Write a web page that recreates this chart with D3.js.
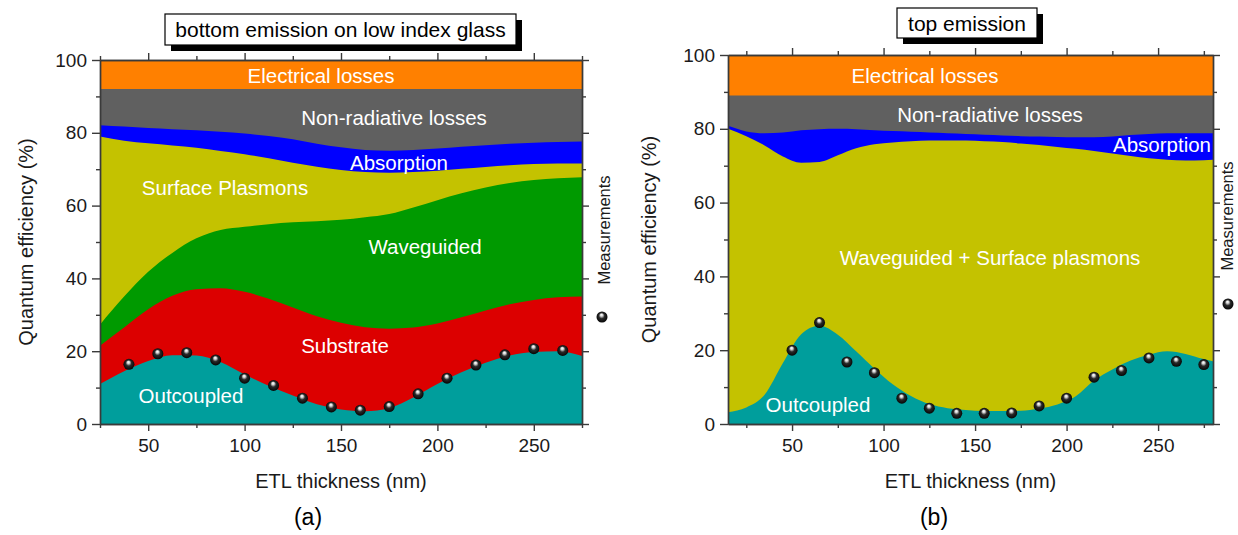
<!DOCTYPE html>
<html>
<head>
<meta charset="utf-8">
<script src="https://cdn.jsdelivr.net/npm/d3@7"></script>
<style>
  body { margin: 0; background: #fff; }
  svg { display: block; }
  text { font-family: "Liberation Sans", Arial, Helvetica, sans-serif; }
</style>
</head>
<body>
<svg id="fig" width="1238" height="535"></svg>
<script>
// ---------- (a) bottom emission on low index glass ----------
// ETL thickness grid (nm) and share of each channel (%)
const bottomThickness   = [25, 37.5, 50, 62.5, 75, 87.5, 100, 112.5, 125, 137.5, 150, 162.5, 175, 187.5, 200, 212.5, 225, 237.5, 250, 262.5, 275];
const bottomOutcoupled  = [11.0, 14.5, 17.3, 18.9, 18.8, 17.0, 13.6, 10.5, 7.8, 5.4, 4.0, 3.5, 4.4, 7.3, 11.0, 14.2, 16.8, 18.8, 19.8, 20.0, 18.7];
const bottomSubstrate   = [10.5, 12.0, 14.2, 16.3, 18.2, 20.3, 22.7, 23.9, 24.2, 24.2, 23.8, 23.1, 21.8, 19.2, 16.6, 15.1, 14.4, 14.1, 14.3, 14.8, 16.3];
const bottomWaveguided  = [5.8, 8.5, 10.3, 11.8, 14.0, 16.0, 17.9, 20.5, 23.4, 26.1, 28.3, 30.2, 31.5, 33.0, 33.9, 34.1, 33.8, 33.3, 32.9, 32.7, 32.8];
const bottomPlasmons    = [51.7, 42.8, 35.3, 29.5, 24.9, 21.7, 19.9, 18.1, 16.4, 15.0, 13.7, 12.4, 11.3, 9.7, 8.1, 6.7, 5.6, 4.9, 4.4, 4.1, 3.8];
const bottomAbsorption  = [3.1, 3.9, 4.2, 4.5, 4.8, 5.3, 5.7, 6.1, 6.4, 6.3, 6.2, 6.1, 6.1, 6.1, 6.1, 6.1, 6.0, 5.9, 5.9, 5.9, 6.0];
const bottomNonRad      = [9.9, 10.3, 10.7, 11.0, 11.3, 11.7, 12.2, 12.9, 13.8, 15.0, 16.0, 16.7, 16.9, 16.7, 16.3, 15.8, 15.4, 15.0, 14.7, 14.5, 14.4];
const bottomElectrical  = [8, 8, 8, 8, 8, 8, 8, 8, 8, 8, 8, 8, 8, 8, 8, 8, 8, 8, 8, 8, 8];
// measured external quantum efficiency
const bottomMeasThickness = [40, 55, 70, 85, 100, 115, 130, 145, 160, 175, 190, 205, 220, 235, 250, 265];
const bottomMeasured      = [16.4, 19.3, 19.6, 17.6, 12.6, 10.6, 7.1, 4.7, 3.8, 4.8, 8.3, 12.6, 16.2, 19.0, 20.7, 20.2];

// ---------- (b) top emission ----------
const topThickness   = [15, 25, 35, 45, 55, 65, 75, 85, 95, 105, 115, 125, 135, 145, 155, 165, 175, 185, 195, 205, 215, 225, 235, 245, 255, 265, 275, 280];
const topOutcoupled  = [3.2, 4.5, 7.9, 16.5, 24.3, 26.6, 24.2, 19.7, 15.0, 10.8, 7.6, 5.4, 4.3, 3.8, 3.5, 3.5, 3.6, 4.2, 5.3, 7.5, 11.8, 14.8, 17.2, 18.8, 19.7, 19.0, 17.6, 17.0];
const topWgSp        = [76.8, 73.5, 67.6, 56.0, 46.5, 44.4, 48.6, 55.0, 60.8, 65.5, 69.0, 71.4, 72.5, 73.0, 73.1, 72.9, 72.4, 71.4, 69.8, 67.1, 62.2, 58.5, 55.4, 53.2, 51.9, 52.4, 53.9, 54.6];
const topAbsorption  = [0.8, 1.3, 3.3, 6.5, 8.8, 8.9, 7.2, 5.2, 3.8, 3.1, 2.6, 2.2, 2.0, 1.8, 1.8, 1.8, 2.0, 2.3, 2.7, 3.1, 3.7, 4.6, 5.7, 6.6, 7.2, 7.4, 7.3, 7.2];
const topNonRad      = [8.2, 9.7, 10.2, 10.0, 9.4, 9.1, 9.0, 9.1, 9.4, 9.6, 9.8, 10.0, 10.2, 10.4, 10.6, 10.8, 11.0, 11.1, 11.2, 11.3, 11.3, 11.1, 10.7, 10.4, 10.2, 10.2, 10.2, 10.2];
const topElectrical  = [11, 11, 11, 11, 11, 11, 11, 11, 11, 11, 11, 11, 11, 11, 11, 11, 11, 11, 11, 11, 11, 11, 11, 11, 11, 11, 11, 11];
const topMeasThickness = [50, 65, 80, 95, 110, 125, 140, 155, 170, 185, 200, 215, 230, 245, 260, 275];
const topMeasured      = [20.0, 27.5, 16.8, 13.9, 7.0, 4.3, 2.9, 2.9, 3.0, 4.9, 7.0, 12.7, 14.5, 17.9, 17.0, 16.1];

// axis ticks
const yMajor = [0, 20, 40, 60, 80, 100];
const yMinor = [10, 30, 50, 70, 90];
const xMajor = [50, 100, 150, 200, 250];
const xMinor = [25, 75, 125, 175, 225, 275];

const colors = {
  outcoupled: "#009e9c",
  substrate:  "#dc0000",
  waveguided: "#009a00",
  plasmons:   "#c4c200",
  wgsp:       "#c4c200",
  absorption: "#0000ff",
  nonrad:     "#606060",
  electrical: "#ff8000"
};

const svg = d3.select("#fig");
const defs = svg.append("defs");

// shaded sphere for the measurement markers
const grad = defs.append("radialGradient").attr("id", "ball")
  .attr("cx", "50%").attr("cy", "50%").attr("r", "55%")
  .attr("fx", "45%").attr("fy", "28%");
grad.append("stop").attr("offset", "0%").attr("stop-color", "#ffffff");
grad.append("stop").attr("offset", "20%").attr("stop-color", "#d8d8d8");
grad.append("stop").attr("offset", "48%").attr("stop-color", "#2a2a2a");
grad.append("stop").attr("offset", "100%").attr("stop-color", "#000000");

function drawPanel(p) {
  const x = d3.scaleLinear().domain(p.xDomain).range(p.xRange);
  const y = d3.scaleLinear().domain([0, 100]).range(p.yRange);
  const g = svg.append("g");

  const clipId = "clip-" + p.id;
  defs.append("clipPath").attr("id", clipId).append("rect")
    .attr("x", p.xRange[0]).attr("y", p.yRange[1])
    .attr("width", p.xRange[1] - p.xRange[0])
    .attr("height", p.yRange[0] - p.yRange[1]);

  const rows = p.thickness.map((t, i) => {
    const r = { t };
    p.layers.forEach(l => { r[l.key] = l.values[i]; });
    return r;
  });
  const stacked = d3.stack().keys(p.layers.map(l => l.key))(rows);

  // each layer is filled from the axis up to its cumulative top, top layer first
  const area = d3.area()
    .x(d => x(d.data.t))
    .y0(y(0))
    .y1(d => y(d[1]))
    .curve(d3.curveMonotoneX);

  const areas = g.append("g").attr("clip-path", `url(#${clipId})`);
  stacked.slice().reverse().forEach(s => {
    areas.append("path")
      .attr("d", area(s))
      .attr("fill", colors[s.key]);
  });

  // in-plot labels
  p.labels.forEach(l => {
    g.append("text")
      .attr("x", l.x).attr("y", l.y).attr("dy", "0.36em")
      .attr("text-anchor", "middle")
      .attr("fill", "#ffffff")
      .attr("font-size", 20.5)
      .text(l.text);
  });

  // measurement markers
  g.append("g").selectAll("circle")
    .data(p.measThickness.map((t, i) => [t, p.measured[i]]))
    .join("circle")
    .attr("cx", d => x(d[0]))
    .attr("cy", d => y(d[1]))
    .attr("r", 5.5)
    .attr("fill", "url(#ball)");

  // axes on all four sides
  const axisColor = "#3a3a3a";
  function styleAxis(sel) {
    sel.selectAll("path.domain").attr("stroke", axisColor).attr("stroke-width", 1.4);
    sel.selectAll(".tick line").attr("stroke", axisColor).attr("stroke-width", 1.4);
    sel.selectAll(".tick text").attr("fill", "#1a1a1a").attr("font-size", 19)
      .attr("font-family", "'Liberation Sans', Arial, sans-serif");
  }
  const [x0, x1] = p.xRange, [yb, yt] = p.yRange;
  const minorX = xMinor.filter(v => v >= p.xDomain[0] && v <= p.xDomain[1]);

  g.append("g").attr("transform", `translate(0,${yb})`)
    .call(d3.axisBottom(x).tickValues(xMajor).tickSize(7).tickSizeOuter(0).tickPadding(8))
    .call(styleAxis);
  g.append("g").attr("transform", `translate(0,${yb})`)
    .call(d3.axisBottom(x).tickValues(minorX).tickSize(4).tickSizeOuter(0).tickFormat(""))
    .call(styleAxis);
  g.append("g").attr("transform", `translate(0,${yt})`)
    .call(d3.axisTop(x).tickValues(xMajor).tickSize(7).tickSizeOuter(0).tickFormat(""))
    .call(styleAxis);
  g.append("g").attr("transform", `translate(0,${yt})`)
    .call(d3.axisTop(x).tickValues(minorX).tickSize(4).tickSizeOuter(0).tickFormat(""))
    .call(styleAxis);
  g.append("g").attr("transform", `translate(${x0},0)`)
    .call(d3.axisLeft(y).tickValues(yMajor).tickSize(8).tickSizeOuter(0).tickPadding(5))
    .call(styleAxis);
  g.append("g").attr("transform", `translate(${x0},0)`)
    .call(d3.axisLeft(y).tickValues(yMinor).tickSize(4).tickSizeOuter(0).tickFormat(""))
    .call(styleAxis);
  g.append("g").attr("transform", `translate(${x1},0)`)
    .call(d3.axisRight(y).tickValues(yMajor).tickSize(7).tickSizeOuter(0).tickFormat(""))
    .call(styleAxis);
  g.append("g").attr("transform", `translate(${x1},0)`)
    .call(d3.axisRight(y).tickValues(yMinor).tickSize(4).tickSizeOuter(0).tickFormat(""))
    .call(styleAxis);

  // axis titles
  g.append("text")
    .attr("x", (x0 + x1) / 2).attr("y", 488)
    .attr("text-anchor", "middle").attr("font-size", 20).attr("fill", "#1a1a1a")
    .text("ETL thickness (nm)");
  g.append("text")
    .attr("transform", `translate(${x0 - p.yTitleOffset},${(yb + yt) / 2}) rotate(-90)`)
    .attr("text-anchor", "middle").attr("font-size", 20).attr("fill", "#1a1a1a")
    .text("Quantum efficiency (%)");

  // legend for the measured points
  g.append("text")
    .attr("transform", `translate(${p.legend.x},${p.legend.y}) rotate(-90)`)
    .attr("text-anchor", "middle").attr("font-size", 16.5).attr("fill", "#1a1a1a")
    .text("Measurements");
  g.append("circle")
    .attr("cx", p.legend.bx).attr("cy", p.legend.by).attr("r", 5.5)
    .attr("fill", "url(#ball)");

  // panel title box with drop shadow
  const tb = p.titleBox;
  g.append("rect").attr("x", tb.x + 6).attr("y", tb.y + 6)
    .attr("width", tb.w).attr("height", tb.h).attr("fill", "#000");
  g.append("rect").attr("x", tb.x).attr("y", tb.y)
    .attr("width", tb.w).attr("height", tb.h)
    .attr("fill", "#fff").attr("stroke", "#000").attr("stroke-width", 1.2);
  g.append("text")
    .attr("x", tb.x + tb.w / 2).attr("y", tb.y + tb.h / 2).attr("dy", "0.36em")
    .attr("text-anchor", "middle").attr("font-size", 21).attr("fill", "#000")
    .text(p.title);

  // caption
  g.append("text")
    .attr("x", p.caption.x).attr("y", 525)
    .attr("text-anchor", "middle").attr("font-size", 23)
    .attr("font-family", "'Liberation Serif', 'DejaVu Serif', serif")
    .attr("fill", "#000")
    .text(p.caption.text);
}

drawPanel({
  id: "bottom",
  title: "bottom emission on low index glass",
  titleBox: { x: 165, y: 14, w: 351, h: 31 },
  xDomain: [25, 275], xRange: [100, 582], yRange: [424, 60],
  yTitleOffset: 67,
  thickness: bottomThickness,
  layers: [
    { key: "outcoupled", values: bottomOutcoupled },
    { key: "substrate",  values: bottomSubstrate },
    { key: "waveguided", values: bottomWaveguided },
    { key: "plasmons",   values: bottomPlasmons },
    { key: "absorption", values: bottomAbsorption },
    { key: "nonrad",     values: bottomNonRad },
    { key: "electrical", values: bottomElectrical }
  ],
  measThickness: bottomMeasThickness, measured: bottomMeasured,
  labels: [
    { text: "Electrical losses",    x: 321, y: 76 },
    { text: "Non-radiative losses", x: 394, y: 118 },
    { text: "Absorption",           x: 399, y: 163 },
    { text: "Surface Plasmons",     x: 225, y: 188 },
    { text: "Waveguided",           x: 425, y: 247 },
    { text: "Substrate",            x: 345, y: 346 },
    { text: "Outcoupled",           x: 191, y: 396 }
  ],
  legend: { x: 610, y: 230, bx: 602, by: 317 },
  caption: { text: "(a)", x: 308 }
});

drawPanel({
  id: "top",
  title: "top emission",
  titleBox: { x: 897, y: 8, w: 140, h: 30 },
  xDomain: [15, 280], xRange: [728, 1213], yRange: [424, 55],
  yTitleOffset: 72,
  thickness: topThickness,
  layers: [
    { key: "outcoupled", values: topOutcoupled },
    { key: "wgsp",       values: topWgSp },
    { key: "absorption", values: topAbsorption },
    { key: "nonrad",     values: topNonRad },
    { key: "electrical", values: topElectrical }
  ],
  measThickness: topMeasThickness, measured: topMeasured,
  labels: [
    { text: "Electrical losses",             x: 925,  y: 76 },
    { text: "Non-radiative losses",          x: 990,  y: 115 },
    { text: "Absorption",                    x: 1162, y: 145 },
    { text: "Waveguided + Surface plasmons", x: 990,  y: 258 },
    { text: "Outcoupled",                    x: 818,  y: 405 }
  ],
  legend: { x: 1233, y: 216, bx: 1228, by: 304 },
  caption: { text: "(b)", x: 934 }
});
</script>
</body>
</html>
